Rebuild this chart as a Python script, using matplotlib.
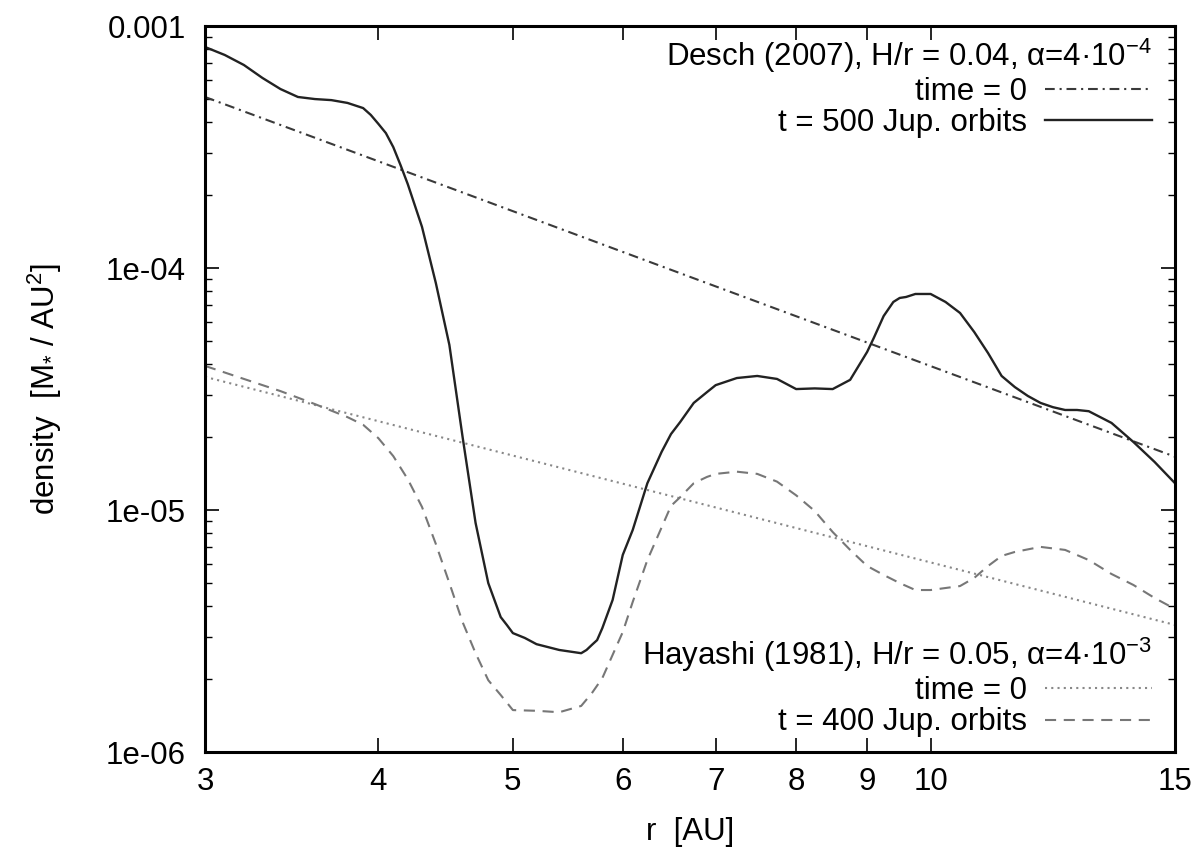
import matplotlib
matplotlib.use("Agg")
import matplotlib.pyplot as plt
from matplotlib.ticker import FixedLocator, FixedFormatter, LogLocator, NullFormatter

plt.rcParams['font.family'] = ['Liberation Sans', 'DejaVu Sans']
plt.rcParams['mathtext.fontset'] = 'custom'
plt.rcParams['mathtext.rm'] = 'Liberation Sans'
plt.rcParams['mathtext.it'] = 'Liberation Sans:italic'
plt.rcParams['mathtext.default'] = 'regular'
plt.rcParams['lines.scale_dashes'] = False

# ---------------- data ----------------
# Desch (2007) initial profile (straight line in log-log)
r_desch0 = [3.0, 15.0]
sig_desch0 = [5.09e-4, 1.66e-5]

# Hayashi (1981) initial profile
r_hay0 = [3.0, 15.0]
sig_hay0 = [3.55e-5, 3.35e-6]

# Desch, t = 500 Jup. orbits
r_500 = [3.0, 3.1, 3.2, 3.3, 3.4, 3.5, 3.6, 3.7, 3.8, 3.9, 3.95, 4.0, 4.05,
         4.1, 4.15, 4.2, 4.3, 4.4, 4.5, 4.6, 4.7, 4.8, 4.9, 4.95,
         5.0, 5.1, 5.2, 5.4, 5.6, 5.65, 5.7, 5.75, 5.8, 5.9, 6.0, 6.1, 6.25,
         6.4, 6.5, 6.6, 6.75, 6.9, 7.0, 7.25, 7.5, 7.75, 8.0, 8.25, 8.5,
         8.75, 9.0, 9.1, 9.25, 9.4, 9.5, 9.6, 9.75, 10.0, 10.25, 10.5, 10.75,
         11.0, 11.25, 11.5, 11.75, 12.0, 12.25, 12.5, 12.75, 13.0, 13.5,
         14.0, 14.5, 15.0]
sig_500 = [8.19e-4, 7.59e-4, 6.90e-4, 6.10e-4, 5.49e-4, 5.09e-4, 4.99e-4,
           4.94e-4, 4.81e-4, 4.58e-4, 4.29e-4, 3.94e-4, 3.61e-4,
           3.16e-4, 2.66e-4, 2.22e-4, 1.48e-4, 8.67e-5, 4.81e-5, 2.00e-5,
           8.84e-6, 4.99e-6, 3.61e-6, 3.35e-6,
           3.10e-6, 2.96e-6, 2.79e-6, 2.64e-6, 2.56e-6, 2.64e-6, 2.77e-6,
           2.90e-6, 3.25e-6, 4.25e-6, 6.52e-6, 8.27e-6, 1.29e-5,
           1.74e-5, 2.06e-5, 2.31e-5, 2.77e-5, 3.07e-5, 3.28e-5, 3.51e-5,
           3.58e-5, 3.48e-5, 3.16e-5, 3.18e-5, 3.16e-5,
           3.45e-5, 4.50e-5, 5.14e-5, 6.33e-5, 7.24e-5, 7.52e-5, 7.59e-5,
           7.81e-5, 7.81e-5, 7.24e-5, 6.52e-5, 5.44e-5,
           4.45e-5, 3.58e-5, 3.22e-5, 2.96e-5, 2.77e-5, 2.66e-5, 2.59e-5,
           2.59e-5, 2.56e-5, 2.29e-5, 1.91e-5, 1.58e-5, 1.29e-5]

# Hayashi, t = 400 Jup. orbits
r_400 = [3.0, 3.2, 3.4, 3.6, 3.8, 3.9, 4.0, 4.1, 4.2, 4.3, 4.4, 4.5, 4.6,
         4.7, 4.8, 4.9, 5.0, 5.2, 5.4, 5.6, 5.7, 5.8, 5.9, 6.0, 6.1, 6.25,
         6.5, 6.6, 6.75, 6.9, 7.0, 7.25, 7.5, 7.75, 8.0, 8.25, 8.5, 8.75,
         9.0, 9.25, 9.5, 9.75, 10.0, 10.5, 10.75, 11.0, 11.25, 11.5, 12.0,
         12.5, 13.0, 13.5, 14.0, 14.5, 15.0]
sig_400 = [3.94e-5, 3.48e-5, 3.10e-5, 2.74e-5, 2.42e-5, 2.25e-5, 1.98e-5,
           1.67e-5, 1.34e-5, 1.03e-5, 7.24e-6, 4.99e-6, 3.44e-6,
           2.56e-6, 1.98e-6, 1.72e-6, 1.49e-6, 1.48e-6, 1.46e-6, 1.55e-6,
           1.75e-6, 2.02e-6, 2.52e-6, 3.13e-6, 4.17e-6, 6.21e-6,
           1.04e-5, 1.13e-5, 1.29e-5, 1.37e-5, 1.41e-5, 1.44e-5, 1.41e-5,
           1.31e-5, 1.15e-5, 9.91e-6, 8.11e-6, 6.84e-6,
           5.87e-6, 5.39e-6, 4.99e-6, 4.67e-6, 4.67e-6, 4.85e-6, 5.24e-6,
           5.87e-6, 6.46e-6, 6.71e-6, 7.04e-6,
           6.84e-6, 6.21e-6, 5.44e-6, 4.90e-6, 4.33e-6, 3.90e-6]

x_ticks = [3, 4, 5, 6, 7, 8, 9, 10, 15]
x_ticklabels = ['3', '4', '5', '6', '7', '8', '9', '10', '15']
y_ticks = [1e-6, 1e-5, 1e-4, 1e-3]
y_ticklabels = ['1e-06', '1e-05', '1e-04', '0.001']

desch_title = 'Desch (2007), H/r = 0.04, α=4·10$^{-4}$'
hay_title = 'Hayashi (1981), H/r = 0.05, α=4·10$^{-3}$'

# ---------------- figure ----------------
FS = 22.5
fig = plt.figure(figsize=(12.01, 8.52), dpi=100)
ax = fig.add_axes([205/1201, 1 - 752/852, 970/1201, 726/852])
ax.set_xscale('log')
ax.set_yscale('log')

l_d0, = ax.plot(r_desch0, sig_desch0, color='#3a3a3a', lw=1.5,
                linestyle=(0, (7, 3.5, 1.5, 3.5)))
l_500, = ax.plot(r_500, sig_500, color='#222222', lw=1.7, linestyle='-')
l_h0, = ax.plot(r_hay0, sig_hay0, color='#888888', lw=1.5,
                linestyle=(0, (1.5, 3.0)))
l_400, = ax.plot(r_400, sig_400, color='#777777', lw=1.5,
                 linestyle=(0, (8, 5.5)))

ax.set_xlim(3, 15)
ax.set_ylim(1e-6, 1e-3)

ax.xaxis.set_major_locator(FixedLocator(x_ticks))
ax.xaxis.set_major_formatter(FixedFormatter(x_ticklabels))
ax.xaxis.set_minor_locator(FixedLocator([]))
ax.xaxis.set_minor_formatter(NullFormatter())
ax.yaxis.set_major_locator(FixedLocator(y_ticks))
ax.yaxis.set_major_formatter(FixedFormatter(y_ticklabels))
ax.yaxis.set_minor_locator(LogLocator(base=10, subs=range(2, 10)))
ax.yaxis.set_minor_formatter(NullFormatter())

ax.tick_params(which='major', direction='in', length=10, width=1.2,
               top=True, right=True, labelsize=FS, color='black')
ax.tick_params(which='minor', direction='in', length=5, width=1.0,
               top=True, right=True)
ax.tick_params(axis='x', which='major', pad=11)
ax.tick_params(axis='y', which='major', pad=14)
for s in ax.spines.values():
    s.set_linewidth(2.2)
    s.set_color('black')

ax.set_xlabel('r  [AU]', fontsize=FS, labelpad=14)
ax.set_ylabel('density  [M$_{*}$ / AU$^2$]', fontsize=FS, labelpad=30)

leg1 = ax.legend([l_d0, l_500], ['time = 0', 't = 500 Jup. orbits'],
                 title=desch_title, title_fontsize=FS, fontsize=FS,
                 loc='upper right', bbox_to_anchor=(0.976, 0.985),
                 frameon=False, markerfirst=False, alignment='right',
                 handlelength=3.4, handletextpad=0.6, labelspacing=0.05,
                 borderpad=0, borderaxespad=0)
ax.add_artist(leg1)
leg2 = ax.legend([l_h0, l_400], ['time = 0', 't = 400 Jup. orbits'],
                 title=hay_title, title_fontsize=FS, fontsize=FS,
                 loc='lower right', bbox_to_anchor=(0.976, 0.02),
                 frameon=False, markerfirst=False, alignment='right',
                 handlelength=3.4, handletextpad=0.6, labelspacing=0.05,
                 borderpad=0, borderaxespad=0)

fig.savefig('out.png', dpi=100)
